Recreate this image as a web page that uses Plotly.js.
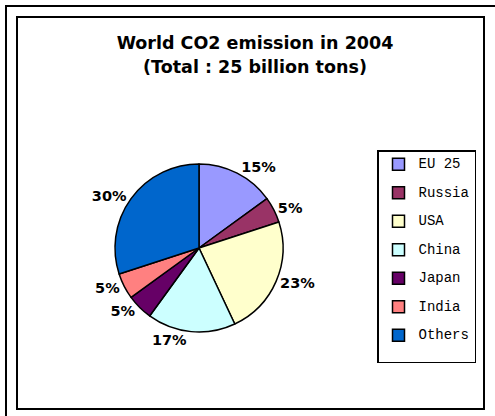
<!DOCTYPE html>
<html>
<head>
<meta charset="utf-8">
<script src="https://cdn.plot.ly/plotly-3.0.1.min.js"></script>
<style>html,body{margin:0;padding:0;background:#fff;}</style>
</head>
<body>
<div id="chart" style="width:495px;height:416px;"></div>
<script>
const categories = ["EU 25", "Russia", "USA", "China", "Japan", "India", "Others"];
const shares = [15, 5, 23, 17, 5, 5, 30];
const colors = ["#9999FF", "#993366", "#FFFFCC", "#CCFFFF", "#660066", "#FF8080", "#0066CC"];
const titleLines = ["World CO2 emission in 2004", "(Total : 25 billion tons)"];

const W = 495, H = 416;
const px = v => v / W;
const py = v => 1 - v / H;

// legend labels: styled text plus an empty line to get the wide row spacing
const legendLabels = categories.map(c => '<span style="font-size:14px">' + c + '</span><br> ');

const trace = {
  type: 'pie',
  labels: legendLabels,
  values: shares,
  sort: false,
  direction: 'clockwise',
  rotation: 0,
  marker: {colors: colors, line: {color: '#000', width: 1.5}},
  texttemplate: '%{value}%',
  textposition: 'outside',
  textfont: {family: 'DejaVu Sans', size: 14.5, color: '#000', weight: 'bold'},
  hoverinfo: 'none',
  domain: {x: [px(115), px(283)], y: [py(332), py(164)]}
};

const layout = {
  width: W, height: H,
  margin: {l: 0, r: 0, t: 0, b: 0},
  paper_bgcolor: '#fff',
  showlegend: true,
  title: {
    text: titleLines.map(t => '<span style="font-size:17.5px">' + t + '</span>').join('<br>'),
    font: {family: 'DejaVu Sans', size: 18.5, color: '#000', weight: 'bold'},
    x: px(255), xanchor: 'center', xref: 'paper',
    y: py(49), yanchor: 'top', yref: 'paper'
  },
  legend: {
    x: px(377), xanchor: 'left',
    y: py(150), yanchor: 'top',
    font: {family: 'Liberation Mono', size: 9.8, color: '#000'},
    bordercolor: '#000', borderwidth: 1.5,
    bgcolor: '#fff',
    valign: 'top',
    itemclick: false
  },
  shapes: [
    {type: 'rect', xref: 'paper', yref: 'paper', x0: px(6), x1: px(520), y0: py(440), y1: py(6),
     line: {color: '#000', width: 2}},
    {type: 'rect', xref: 'paper', yref: 'paper', x0: px(17), x1: px(484), y0: py(409), y1: py(17),
     line: {color: '#000', width: 2}}
  ]
};

Plotly.newPlot('chart', [trace], layout, {displayModeBar: false, staticPlot: true});
</script>
</body>
</html>
